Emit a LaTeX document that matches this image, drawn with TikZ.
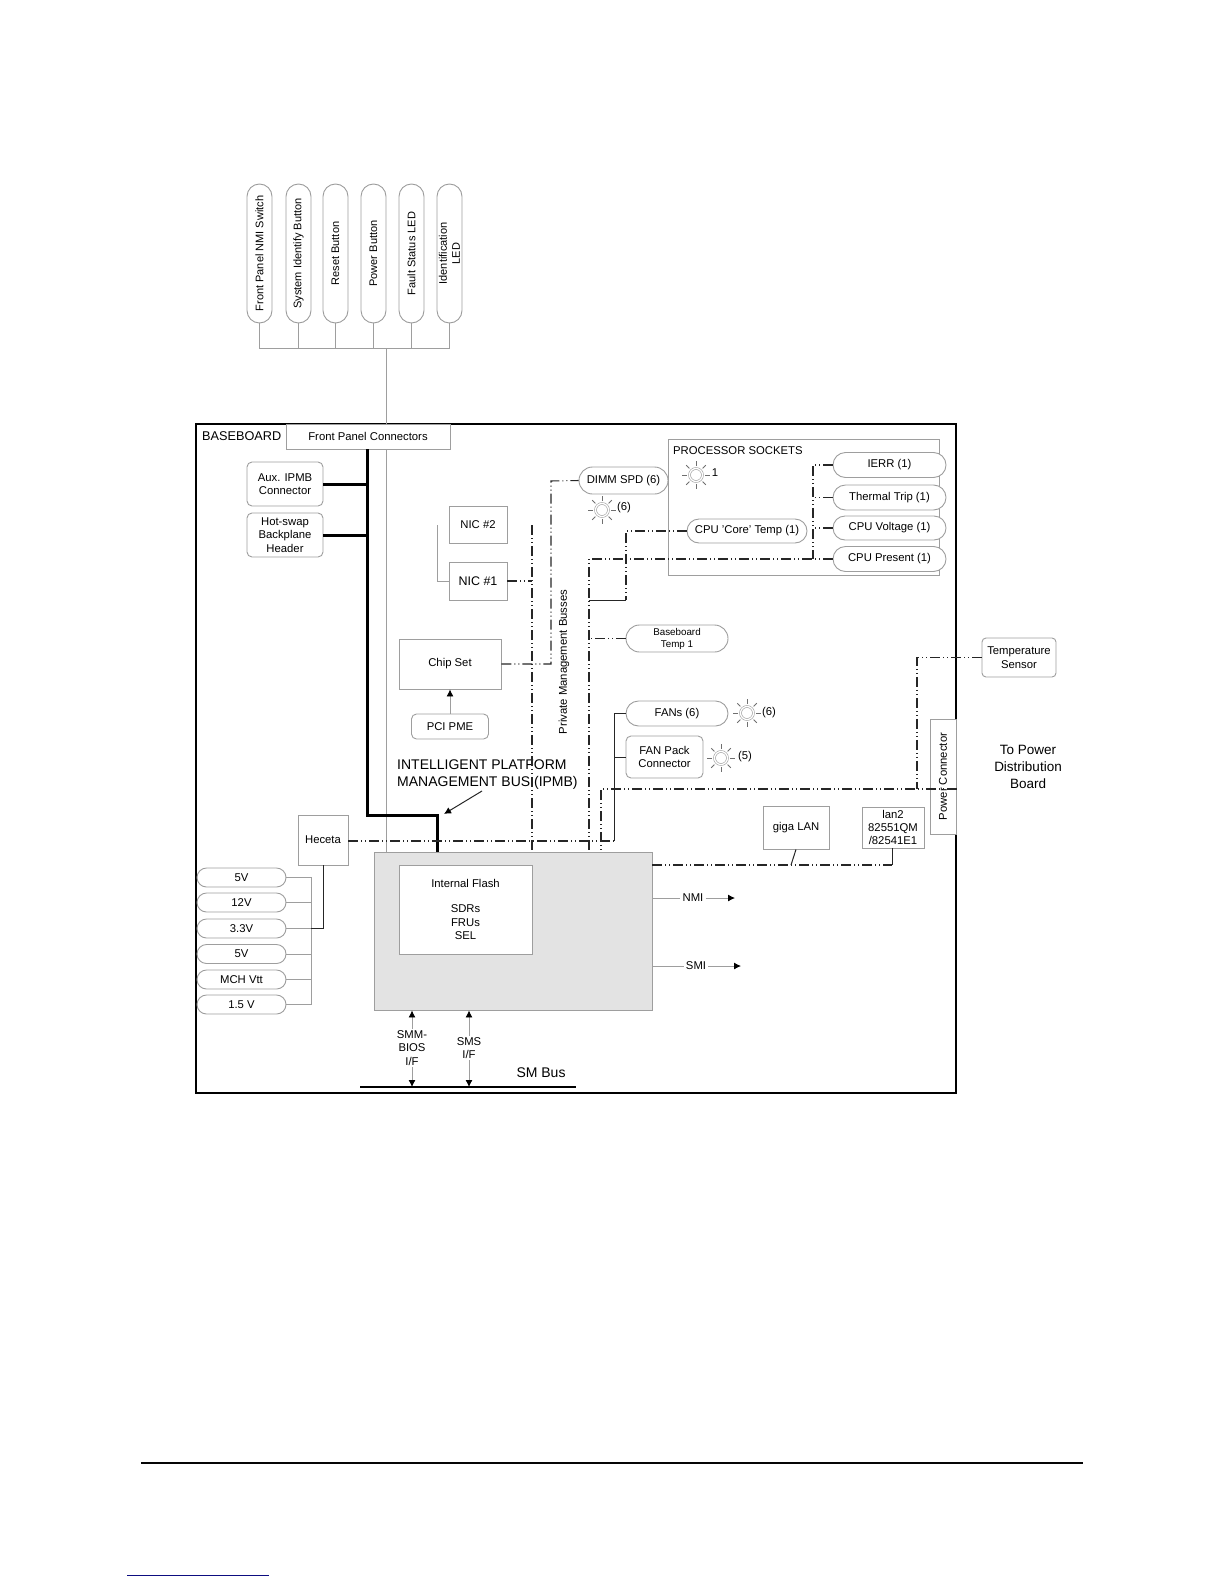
\documentclass[tikz,border=0pt]{standalone}
\usepackage{fontspec}
\setmainfont{Liberation Sans}
\usetikzlibrary{shapes.misc,arrows.meta}
\definecolor{linegray}{gray}{0.62}
\definecolor{darkline}{gray}{0.15}
\definecolor{boxfill}{gray}{0.89}
\definecolor{rulecolor}{gray}{0.02}
\definecolor{notelink}{rgb}{0.05,0.05,0.5}
\tikzset{
	box/.style={draw=linegray, line width=0.9pt, fill=white, inner sep=0pt, align=center, font=\fontsize{11.3}{13.4}\selectfont},
	softbox/.style={box, rounded corners=5pt},
	pill/.style={box, rounded rectangle},
	frontpill/.style={pill, rotate=90, minimum width=139pt, minimum height=25pt, font=\fontsize{11}{13}\selectfont},
	voltpill/.style={pill, minimum width=89pt, minimum height=19pt},
	cpupill/.style={pill, minimum width=113pt, minimum height=25pt},
	lamp/.style={circle, draw=linegray, line width=0.6pt, double=white, double distance=1.3pt, fill=white, minimum size=13pt, inner sep=0pt},
	caption/.style={inner sep=0pt, align=center, font=\fontsize{11.3}{13.4}\selectfont},
	thinline/.style={draw=linegray, line width=0.9pt},
	darkwire/.style={draw=darkline, line width=1pt},
	thickbus/.style={draw=black, line width=3pt},
	mgmtbus/.style={draw=darkline, line width=1.05pt, dash pattern=on 10pt off 3pt on 1pt off 3pt on 1pt off 3pt},
	tip/.style={-{Latex[black,length=7pt,width=7pt]}},
}
% one lamp with its rays
\newcommand{\lampicon}[3]{
	\node [lamp] (#1) at (#2,#3) {};
	\foreach \ang in {0,45,...,315}
		\draw [linegray!70!black, line width=0.8pt] (#1.\ang) ++(\ang:2.5pt) -- ++(\ang:4.5pt);
}
\begin{document}
\begin{tikzpicture}[x=1pt, y=-1pt]
	\useasboundingbox (0,0) rectangle (1224,1584);

	% baseboard
	\node [draw=black, line width=1.8pt, minimum width=760pt, minimum height=669pt, inner sep=0pt] (baseboard) at (576,758.5) {};
	\node [caption, anchor=west, font=\fontsize{12.7}{15}\selectfont] (baseboardlabel) at (202,436) {BASEBOARD};

	% front panel
	\node [frontpill] (nmiswitch) at (259.5,253.5) {Front Panel NMI Switch};
	\node [frontpill] (identbutton) at (298.5,253.5) {System Identify Button};
	\node [frontpill] (resetbutton) at (335.5,253.5) {Reset Button};
	\node [frontpill] (powerbutton) at (373.5,253.5) {Power Button};
	\node [frontpill] (faultled) at (411.5,253.5) {Fault Status LED};
	\node [frontpill, align=center] (identled) at (449.5,253.5) {Identification\\LED};
	\coordinate (panelbus) at (386,348);
	\draw [thinline] (nmiswitch.west) -- (nmiswitch.west |- panelbus) -- (identled.west |- panelbus) -- (identled.west);
	\draw [thinline] (identbutton.west) -- (identbutton.west |- panelbus);
	\draw [thinline] (resetbutton.west) -- (resetbutton.west |- panelbus);
	\draw [thinline] (powerbutton.west) -- (powerbutton.west |- panelbus);
	\draw [thinline] (faultled.west) -- (faultled.west |- panelbus);

	% controller
	\node [draw=linegray, line width=0.9pt, fill=boxfill, minimum width=278pt, minimum height=158pt, inner sep=0pt] (bmc) at (513,931) {};
	\node [box, minimum width=133pt, minimum height=89pt] (flash) at (465.5,909.5) {Internal Flash\\[12pt]SDRs\\FRUs\\SEL};

	\node [box, minimum width=164pt, minimum height=25pt] (frontconn) at (368,436.5) {Front Panel Connectors};
	\draw [thinline] (panelbus) -- (frontconn.north -| panelbus);
	\draw [thinline] (frontconn.south -| panelbus) -- (bmc.north -| panelbus);

	% ipmb
	\node [softbox, minimum width=76pt, minimum height=44pt] (auxipmb) at (285,484) {Aux. IPMB\\Connector};
	\node [softbox, minimum width=76pt, minimum height=44pt] (hotswap) at (285,535) {Hot-swap\\Backplane\\Header};
	\coordinate (ipmbbend) at (367,815);
	\coordinate (ipmbdrop) at (437,815);
	\draw [thickbus] (frontconn.south -| ipmbbend) -- (ipmbbend) -- (ipmbdrop) -- (bmc.north -| ipmbdrop);
	\draw [thickbus] (auxipmb.east) -- (auxipmb.east -| ipmbbend);
	\draw [thickbus] (hotswap.east) -- (hotswap.east -| ipmbbend);
	\node [caption, anchor=west, align=left, font=\fontsize{14}{17}\selectfont] (ipmblabel) at (397,774.5) {INTELLIGENT PLATFORM\\MANAGEMENT BUS (IPMB)};
	\coordinate (ipmbtail) at (482,791);
	\coordinate (ipmbhead) at (444,814);
	\draw [darkwire, tip] (ipmbtail) -- (ipmbhead);

	% nics and chip set
	\node [box, minimum width=58pt, minimum height=37pt] (nictwo) at (478,524.5) {NIC \#2};
	\node [box, minimum width=58pt, minimum height=38pt, font=\fontsize{12.5}{14}\selectfont] (nicone) at (478,581) {NIC \#1};
	\node [box, minimum width=102pt, minimum height=50pt] (chipset) at (450,664) {Chip Set};
	\node [softbox, minimum width=77pt, minimum height=25pt] (pcipme) at (450,726.5) {PCI PME};
	\draw [thinline, tip] (pcipme) -- (chipset);
	\coordinate (nicbus) at (437,525);
	\draw [thinline] (nicbus) -- (nicbus |- nicone) -- (nicone.west);
	\coordinate (sidebus) at (532,525);
	\draw [mgmtbus] (sidebus) -- (bmc.north -| sidebus);
	\draw [mgmtbus] (nicone.east) -- (nicone -| sidebus);

	% dimm
	\node [pill, minimum width=89pt, minimum height=27pt] (dimm) at (623.5,480.5) {DIMM SPD (6)};
	\lampicon{dimmlamp}{602}{510}
	\node [caption] (dimmcount) at (624,508) {(6)};
	\coordinate (dimmbus) at (551,481);
	\draw [mgmtbus] (chipset.east) -- (chipset.east -| dimmbus) -- (dimmbus) -- (dimm.west);

	\node [caption, rotate=90] (privlabel) at (564,662) {Private Management Busses};

	% processor sockets
	\node [draw=linegray, line width=0.9pt, minimum width=271pt, minimum height=136pt, inner sep=0pt] (sockets) at (803.5,507) {};
	\node [caption, anchor=west] (socketlabel) at (673,451) {PROCESSOR SOCKETS};
	\lampicon{socketlamp}{696}{475}
	\node [caption] (socketcount) at (715,473) {1};
	\node [cpupill] (ierr) at (889.5,465) {IERR (1)};
	\node [cpupill] (thermal) at (889.5,497.5) {Thermal Trip (1)};
	\node [cpupill, minimum height=24pt] (voltage) at (889.5,528) {CPU Voltage (1)};
	\node [cpupill] (present) at (889.5,559) {CPU Present (1)};
	\node [pill, minimum width=120pt, minimum height=24pt] (coretemp) at (747,531) {CPU 'Core' Temp (1)};
	\coordinate (cpubus) at (813,465);
	\coordinate (mainbus) at (589,559);
	\draw [mgmtbus] (ierr.west) -- (cpubus) -- (cpubus |- present);
	\draw [mgmtbus] (thermal.west) -- (thermal.west -| cpubus);
	\draw [mgmtbus] (voltage.west) -- (voltage.west -| cpubus);
	\draw [mgmtbus] (present.west) -- (mainbus) -- (bmc.north -| mainbus);
	\coordinate (corebend) at (626,531);
	\coordinate (corefoot) at (626,600);
	\draw [mgmtbus] (coretemp.west) -- (corebend) -- (corefoot);
	\draw [darkwire] (corefoot) -- (corefoot -| mainbus);

	% temperature
	\node [pill, minimum width=102pt, minimum height=27pt, font=\fontsize{9.8}{12}\selectfont] (basetemp) at (677,638.5) {Baseboard\\Temp 1};
	\draw [mgmtbus] (basetemp.west) -- (basetemp.west -| mainbus);

	% fans
	\node [pill, minimum width=102pt, minimum height=25pt] (fans) at (677,713.5) {FANs (6)};
	\lampicon{fanlamp}{747}{713}
	\node [caption] (fancount) at (769,713) {(6)};
	\node [softbox, minimum width=77pt, minimum height=42pt] (fanpack) at (664.5,757) {FAN Pack\\Connector};
	\lampicon{packlamp}{721}{758}
	\node [caption] (packcount) at (745,757) {(5)};

	% heceta and voltages
	\node [box, minimum width=50pt, minimum height=50pt] (heceta) at (323,840) {Heceta};
	\node [voltpill] (vfive) at (241.5,877.5) {5V};
	\node [voltpill] (vtwelve) at (241.5,902.5) {12V};
	\node [voltpill] (vthree) at (241.5,928.5) {3.3V};
	\node [voltpill] (vfivetwo) at (241.5,954) {5V};
	\node [voltpill] (vmch) at (241.5,979.5) {MCH Vtt};
	\node [voltpill] (vonefive) at (241.5,1004.5) {1.5 V};
	\coordinate (voltbus) at (311,877.5);
	\draw [thinline] (vfive.east) -- (voltbus) -- (voltbus |- vonefive) -- (vonefive.east);
	\draw [thinline] (vtwelve.east) -- (vtwelve.east -| voltbus);
	\draw [thinline] (vfivetwo.east) -- (vfivetwo.east -| voltbus);
	\draw [thinline] (vmch.east) -- (vmch.east -| voltbus);
	\draw [thinline] (vthree.east) -- (vthree.east -| voltbus);
	\draw [darkwire] (heceta.south) -- (heceta.south |- vthree) -- (vthree.east -| voltbus);

	\coordinate (fanbus) at (614,841);
	\draw [mgmtbus] (heceta.east |- fanbus) -- (fanbus);
	\draw [darkwire] (fanbus) -- (fanbus |- fans) -- (fans.west);
	\draw [darkwire] (fanpack.west -| fanbus) -- (fanpack.west);

	% power connector
	\node [box, rotate=90, minimum width=115pt, minimum height=26pt] (powerconn) at (943,776.5) {Power Connector};
	\node [softbox, minimum width=74pt, minimum height=39pt, rounded corners=4pt] (tempsensor) at (1019,657.5) {Temperature\\Sensor};
	\coordinate (sensorbend) at (917,657.5);
	\coordinate (powerbus) at (917,789);
	\coordinate (powerdrop) at (601,789);
	\draw [mgmtbus] (tempsensor.west) -- (sensorbend) -- (powerbus);
	\draw [mgmtbus] (baseboard.east |- powerbus) -- (powerdrop) -- (bmc.north -| powerdrop);
	\node [caption, font=\fontsize{13.5}{17}\selectfont] (powerlabel) at (1028,767) {To Power\\Distribution\\Board};

	% lan
	\node [box, minimum width=66pt, minimum height=43pt] (gigalan) at (796,827.5) {giga LAN};
	\node [box, minimum width=62pt, minimum height=41pt] (lantwo) at (893,827.5) {lan2\\82551QM\\/82541E1};
	\coordinate (lanbus) at (892,865);
	\coordinate (gigafoot) at (791,865);
	\draw [mgmtbus] (bmc.east |- lanbus) -- (lanbus);
	\draw [darkwire] (lanbus) -- (lanbus |- lantwo.south);
	\draw [darkwire] (gigafoot) -- (gigalan.south);

	% outputs
	\node [caption, fill=white, inner xsep=2pt] (nmilabel) at (693,898) {NMI};
	\node [caption, fill=white, inner xsep=2pt] (smilabel) at (696,966) {SMI};
	\coordinate (nmiend) at (735,898);
	\coordinate (smiend) at (741,966);
	\draw [thinline] (bmc.east |- nmilabel) -- (nmilabel);
	\draw [thinline] (bmc.east |- smilabel) -- (smilabel);
	\draw [thinline, tip] (nmilabel) -- (nmiend);
	\draw [thinline, tip] (smilabel) -- (smiend);

	% sm bus
	\coordinate (smstart) at (360,1087);
	\coordinate (smstop) at (576,1087);
	\draw [draw=black, line width=1.6pt] (smstart) -- (smstop);
	\node [caption, font=\fontsize{14}{16}\selectfont] (smlabel) at (541,1073) {SM Bus};
	\node [caption, fill=white, inner ysep=1pt] (smmlabel) at (412,1048) {SMM-\\BIOS\\I/F};
	\node [caption, fill=white, inner ysep=1pt] (smslabel) at (469,1048) {SMS\\I/F};
	\draw [thinline, tip] (smmlabel) -- (bmc.south -| smmlabel);
	\draw [thinline, tip] (smmlabel) -- (smmlabel |- smstart);
	\draw [thinline, tip] (smslabel) -- (bmc.south -| smslabel);
	\draw [thinline, tip] (smslabel) -- (smslabel |- smstart);

	% page rule and note line
	\coordinate (ruleleft) at (141,1463);
	\coordinate (ruleright) at (1083,1463);
	\draw [draw=rulecolor, line width=2pt] (ruleleft) -- (ruleright);
	\coordinate (noteleft) at (127,1575);
	\coordinate (noteright) at (269,1575);
	\draw [draw=notelink, line width=0.9pt] (noteleft) -- (noteright);
\end{tikzpicture}
\end{document}
